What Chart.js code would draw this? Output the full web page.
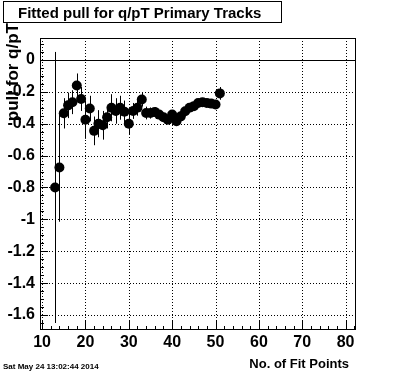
<!DOCTYPE html>
<html>
<head>
<meta charset="utf-8">
<title>Fitted pull for q/pT Primary Tracks</title>
<script src="https://cdn.jsdelivr.net/npm/chart.js@4.4.1/dist/chart.umd.min.js"></script>
<style>
	html, body { margin: 0; padding: 0; background: #fff; }
	canvas { display: block; }
</style>
</head>
<body>
<canvas id="pullChart" width="396" height="372"></canvas>
<script>
// number of fit points per bin and the fitted pull mean / error
const fitPoints = [13, 14, 15, 16, 17, 18, 19, 20, 21, 22, 23, 24, 25, 26, 27, 28, 29, 30, 31, 32,
	33, 34, 35, 36, 37, 38, 39, 40, 41, 42, 43, 44, 45, 46, 47, 48, 49, 50, 51];
const pullMean = [-0.80, -0.675, -0.335, -0.285, -0.265, -0.16, -0.245, -0.375, -0.305, -0.445,
	-0.40, -0.41, -0.36, -0.30, -0.32, -0.30, -0.325, -0.40, -0.32, -0.30,
	-0.248, -0.333, -0.333, -0.326, -0.343, -0.36, -0.375, -0.343, -0.384, -0.354,
	-0.322, -0.30, -0.29, -0.27, -0.265, -0.27, -0.274, -0.28, -0.21];
const pullErr = [0.85, 0.34, 0.095, 0.08, 0.075, 0.075, 0.075, 0.12, 0.08, 0.09,
	0.085, 0.09, 0.07, 0.085, 0.08, 0.075, 0.07, 0.065, 0.05, 0.05,
	0.045, 0.04, 0.035, 0.03, 0.025, 0.025, 0.02, 0.02, 0.02, 0.02,
	0.02, 0.02, 0.02, 0.02, 0.02, 0.02, 0.02, 0.02, 0.04];

const xTicks = [10, 20, 30, 40, 50, 60, 70, 80];
const yTicks = [0, -0.2, -0.4, -0.6, -0.8, -1, -1.2, -1.4, -1.6];

const FONT = '"Liberation Sans", Arial, Helvetica, sans-serif';
Chart.defaults.font.family = FONT;
Chart.defaults.color = '#000';

// ROOT style frame: dotted grid, ticks with minor subdivisions, error bars, texts
const rootFrame = {
	id: 'rootFrame',
	beforeDatasetsDraw(chart) {
		const { ctx, chartArea: a, scales: { x, y } } = chart;
		ctx.save();
		ctx.strokeStyle = '#000';
		ctx.lineWidth = 1;

		// dotted grid
		ctx.setLineDash([1, 2]);
		xTicks.forEach(v => {
			const px = Math.round(x.getPixelForValue(v)) + 0.5;
			ctx.beginPath(); ctx.moveTo(px, a.top); ctx.lineTo(px, a.bottom); ctx.stroke();
		});
		yTicks.forEach(v => {
			const py = Math.round(y.getPixelForValue(v)) + 0.5;
			ctx.beginPath(); ctx.moveTo(a.left, py); ctx.lineTo(a.right, py); ctx.stroke();
		});
		ctx.setLineDash([]);

		// line at zero
		const y0 = Math.round(y.getPixelForValue(0)) + 0.5;
		ctx.beginPath(); ctx.moveTo(a.left, y0); ctx.lineTo(a.right, y0); ctx.stroke();

		// error bars
		fitPoints.forEach((fp, i) => {
			const px = Math.round(x.getPixelForValue(fp)) + 0.5;
			const top = Math.max(y.getPixelForValue(pullMean[i] + pullErr[i]), a.top);
			const bot = Math.min(y.getPixelForValue(pullMean[i] - pullErr[i]), a.bottom);
			ctx.beginPath(); ctx.moveTo(px, top); ctx.lineTo(px, bot); ctx.stroke();
		});
		ctx.restore();
	},
	afterDraw(chart) {
		const { ctx, chartArea: a, scales: { x, y } } = chart;
		ctx.save();
		ctx.strokeStyle = '#000';
		ctx.lineWidth = 1;

		// frame
		ctx.strokeRect(Math.round(a.left) + 0.5, Math.round(a.top) + 0.5,
			Math.round(a.right - a.left) - 1, Math.round(a.bottom - a.top) - 1);

		// x ticks, major every 10, minor every 2
		for (let v = 10; v <= x.max; v += 2) {
			const px = Math.round(x.getPixelForValue(v)) + 0.5;
			const len = (v % 10 === 0) ? 9 : 4;
			ctx.beginPath(); ctx.moveTo(px, a.bottom); ctx.lineTo(px, a.bottom - len); ctx.stroke();
		}
		// y ticks, major every 0.2, minor every 0.05
		for (let k = -34; k <= 2; k++) {
			const v = k * 0.05;
			if (v < y.min || v > y.max) continue;
			const py = Math.round(y.getPixelForValue(v)) + 0.5;
			const len = (k % 4 === 0) ? 8 : 4;
			ctx.beginPath(); ctx.moveTo(a.left, py); ctx.lineTo(a.left + len, py); ctx.stroke();
		}

		// title box
		ctx.fillStyle = '#fff';
		ctx.fillRect(3.5, 1.5, 278, 21);
		ctx.strokeRect(3.5, 1.5, 278, 21);
		ctx.fillStyle = '#000';
		ctx.font = 'bold 15px ' + FONT;
		ctx.textAlign = 'left';
		ctx.textBaseline = 'alphabetic';
		ctx.fillText('Fitted pull for q/pT Primary Tracks', 18, 18);

		// axis titles
		ctx.font = 'bold 13px ' + FONT;
		ctx.textAlign = 'right';
		ctx.fillText('No. of Fit Points', 349, 368);

		ctx.save();
		ctx.translate(18, 23);
		ctx.rotate(-Math.PI / 2);
		ctx.font = 'bold 17px ' + FONT;
		ctx.textAlign = 'right';
		ctx.fillText('pull for q/pT', 0, 0);
		ctx.restore();

		// date stamp
		ctx.font = 'bold 8px ' + FONT;
		ctx.textAlign = 'left';
		ctx.fillText('Sat May 24 13:02:44 2014', 3, 369);
		ctx.restore();
	}
};

new Chart(document.getElementById('pullChart'), {
	type: 'scatter',
	data: {
		datasets: [{
			label: 'pull',
			data: fitPoints.map((fp, i) => ({ x: fp, y: pullMean[i] })),
			pointStyle: 'circle',
			pointRadius: 5,
			pointHoverRadius: 5,
			backgroundColor: '#000',
			borderColor: '#000',
			borderWidth: 0
		}]
	},
	options: {
		responsive: false,
		animation: false,
		devicePixelRatio: 1,
		events: [],
		layout: { padding: { left: 0, top: 38, right: 40, bottom: 0 } },
		scales: {
			x: {
				type: 'linear',
				min: 9.52,
				max: 82.4,
				afterFit: s => { s.height = 42; },
				afterBuildTicks: s => { s.ticks = xTicks.map(v => ({ value: v })); },
				grid: { display: false, drawTicks: false },
				border: { display: false },
				ticks: {
					padding: 3,
					maxRotation: 0,
					autoSkip: false,
					font: { size: 16, weight: 'bold' },
					callback: v => String(v)
				}
			},
			y: {
				type: 'linear',
				min: -1.694,
				max: 0.1375,
				afterFit: s => { s.width = 40; },
				afterBuildTicks: s => { s.ticks = yTicks.map(v => ({ value: v })); },
				grid: { display: false, drawTicks: false },
				border: { display: false },
				ticks: {
					padding: 5,
					autoSkip: false,
					font: { size: 16, weight: 'bold' },
					callback: v => String(Math.round(v * 10) / 10)
				}
			}
		},
		plugins: {
			legend: { display: false },
			title: { display: false },
			tooltip: { enabled: false }
		}
	},
	plugins: [rootFrame]
});
</script>
</body>
</html>
